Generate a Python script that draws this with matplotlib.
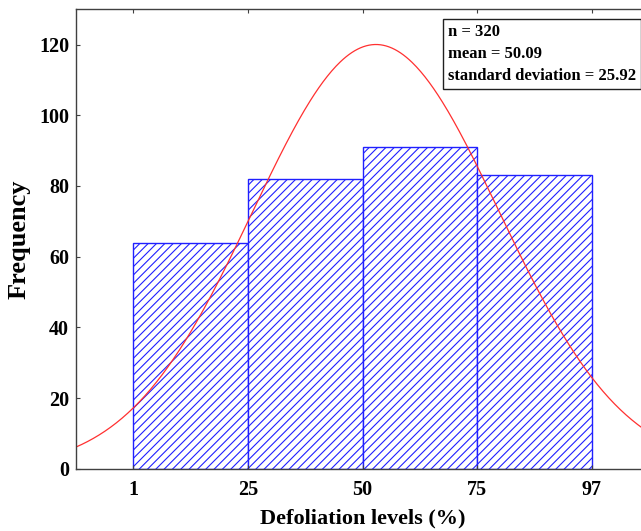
import numpy as np
import matplotlib
matplotlib.use("Agg")
import matplotlib.pyplot as plt

# histogram of defoliation levels
edge_labels = ["1", "25", "50", "75", "97"]
bin_start = 1
bin_width = 24
counts = [64, 82, 91, 83]

# summary shown in the box
n_obs = 320
mean_val = 50.09
sd_val = 25.92

# fitted normal curve as drawn
curve_peak = 120.0
curve_mean = 51.8
curve_sd = 25.8

plt.rcParams['font.family'] = ['Liberation Serif', 'DejaVu Serif']
plt.rcParams['font.weight'] = 'bold'
plt.rcParams['hatch.color'] = '#4a4aff'
plt.rcParams['hatch.linewidth'] = 0.8

fig = plt.figure(figsize=(6.41, 5.31), dpi=100)
ax = fig.add_axes([0.1186, 0.1168, 0.894, 0.866])

edges = bin_start + bin_width * np.arange(len(counts) + 1)
ax.bar(edges[:-1], counts, width=bin_width, align='edge', facecolor='white',
       edgecolor='#2020ff', linewidth=1.0, hatch='////')

xlo, xhi = edges[0] - bin_width / 2, edges[-1] + bin_width / 2
xs = np.linspace(xlo, xhi, 400)
ys = curve_peak * np.exp(-0.5 * ((xs - curve_mean) / curve_sd) ** 2)
ax.plot(xs, ys, color='#ff3030', linewidth=0.9)

ax.set_xlim(xlo, xhi)
ax.set_ylim(0, 130)
ax.set_xticks(edges)
ax.set_xticklabels(edge_labels)
ax.set_yticks(range(0, 121, 20))
ax.tick_params(direction='in', length=3, width=0.8, top=True, right=True,
               labelsize=14.5, color='#404040')
ax.tick_params(axis='x', pad=8)
ax.tick_params(axis='y', pad=5)
for s in ax.spines.values():
    s.set_color('#404040')
    s.set_linewidth(1.0)

ax.set_xlabel("Defoliation levels (%)", fontsize=16, fontweight='bold', labelpad=6)
ax.set_ylabel("Frequency", fontsize=19, fontweight='bold', labelpad=6)

txt = f"n = {n_obs}\nmean = {mean_val:.2f}\nstandard deviation = {sd_val:.2f}"
fig.text(0.6985, 1 - 24 / 531, txt, ha='left', va='top', fontsize=12,
         fontweight='bold', linespacing=1.5,
         bbox=dict(boxstyle='square,pad=0.3', facecolor='white',
                   edgecolor='#202020', linewidth=1.0))

fig.savefig("out.png", dpi=100)
